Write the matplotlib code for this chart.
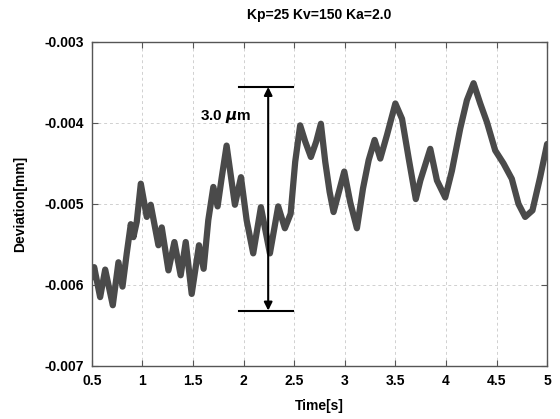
import numpy as np
import matplotlib
matplotlib.use("Agg")
from matplotlib import pyplot as plt

# valores (tempo em s, desvio em mm)
tempo = [0.500, 0.523, 0.582, 0.632, 0.707, 0.763, 0.803, 0.845, 0.885, 0.911,
         0.944, 0.984, 1.043, 1.082, 1.158, 1.191, 1.257, 1.316, 1.378, 1.428,
         1.487, 1.559, 1.605, 1.651, 1.701, 1.743, 1.783, 1.832, 1.914, 1.974,
         2.030, 2.095, 2.171, 2.260, 2.342, 2.408, 2.465, 2.510, 2.559, 2.609,
         2.665, 2.718, 2.764, 2.807, 2.850, 2.889, 2.995, 3.054, 3.120, 3.180,
         3.236, 3.295, 3.351, 3.417, 3.500, 3.566, 3.632, 3.702, 3.747, 3.845,
         3.911, 3.993, 4.059, 4.141, 4.207, 4.273, 4.339, 4.405, 4.487, 4.569,
         4.651, 4.717, 4.783, 4.855, 4.931, 5.000]
desvio = [-0.00591, -0.00578, -0.00615, -0.00581, -0.00625, -0.00572, -0.00602, -0.00561, -0.00525, -0.00541,
          -0.00522, -0.00475, -0.00516, -0.00501, -0.00551, -0.00529, -0.00582, -0.00547, -0.00588, -0.00547,
          -0.00611, -0.00551, -0.00580, -0.00520, -0.00479, -0.00503, -0.00468, -0.00428, -0.00501, -0.00467,
          -0.00520, -0.00561, -0.00504, -0.00561, -0.00503, -0.00530, -0.00512, -0.00448, -0.00403, -0.00423,
          -0.00442, -0.00423, -0.00401, -0.00448, -0.00485, -0.00510, -0.00460, -0.00498, -0.00530, -0.00481,
          -0.00446, -0.00421, -0.00444, -0.00415, -0.00376, -0.00395, -0.00444, -0.00494, -0.00471, -0.00432,
          -0.00471, -0.00492, -0.00459, -0.00407, -0.00372, -0.00351, -0.00376, -0.00399, -0.00434, -0.00450,
          -0.00469, -0.00500, -0.00516, -0.00508, -0.00467, -0.00426]

xticks = [0.5, 1, 1.5, 2, 2.5, 3, 3.5, 4, 4.5, 5]
xtick_labels = ['0.5', '1', '1.5', '2', '2.5', '3', '3.5', '4', '4.5', '5']
yticks = [-0.007, -0.006, -0.005, -0.004, -0.003]
ytick_labels = ['-0.007', '-0.006', '-0.005', '-0.004', '-0.003']

# cota de 3.0 um
cota_topo = -0.003556
cota_base = -0.006316
cota_x = 2.243
cota_x1, cota_x2 = 1.957, 2.484

plt.rcParams['font.family'] = ['Liberation Sans', 'DejaVu Sans']
plt.rcParams['font.weight'] = 'bold'

fig = plt.figure(figsize=(5.6, 4.19), dpi=100)
ax = fig.add_axes([0.164, 0.1265, 0.813, 0.7735])

ax.plot(tempo, desvio, color='#4a4a4a', linewidth=4.5,
        solid_joinstyle='round', solid_capstyle='round')

ax.set_xlim(0.5, 5)
ax.set_ylim(-0.007, -0.003)
ax.set_xticks(xticks)
ax.set_xticklabels(xtick_labels, fontsize=10, fontweight='bold')
ax.set_yticks(yticks)
ax.set_yticklabels(ytick_labels, fontsize=10, fontweight='bold')
ax.tick_params(direction='in', length=4, top=True, right=True, color='#555555', pad=6)
ax.grid(True, linestyle=(0, (3, 3)), color='#d0d0d0', linewidth=0.7)
for s in ax.spines.values():
    s.set_color('#555555')
    s.set_linewidth(1.0)

ax.set_xlabel('Time[s]', fontsize=10, fontweight='bold', labelpad=8)
ax.set_ylabel('Deviation[mm]', fontsize=10, fontweight='bold', labelpad=12)
fig.text(0.57, 0.965, 'Kp=25 Kv=150 Ka=2.0', ha='center', va='center', fontsize=10, fontweight='bold')

# cota
ax.plot([cota_x1, cota_x2], [cota_topo, cota_topo], color='black', linewidth=1.5)
ax.plot([cota_x1, cota_x2], [cota_base, cota_base], color='black', linewidth=1.5)
ax.annotate('', xy=(cota_x, cota_topo), xytext=(cota_x, cota_base),
            arrowprops=dict(arrowstyle='<|-|>', color='black', lw=1.5, mutation_scale=12,
                            shrinkA=0, shrinkB=0))
ax.text(2.08, -0.00392, '3.0 $\\mu$m', ha='right', va='center', fontsize=11, fontweight='bold')

fig.savefig('out.png', dpi=100)
